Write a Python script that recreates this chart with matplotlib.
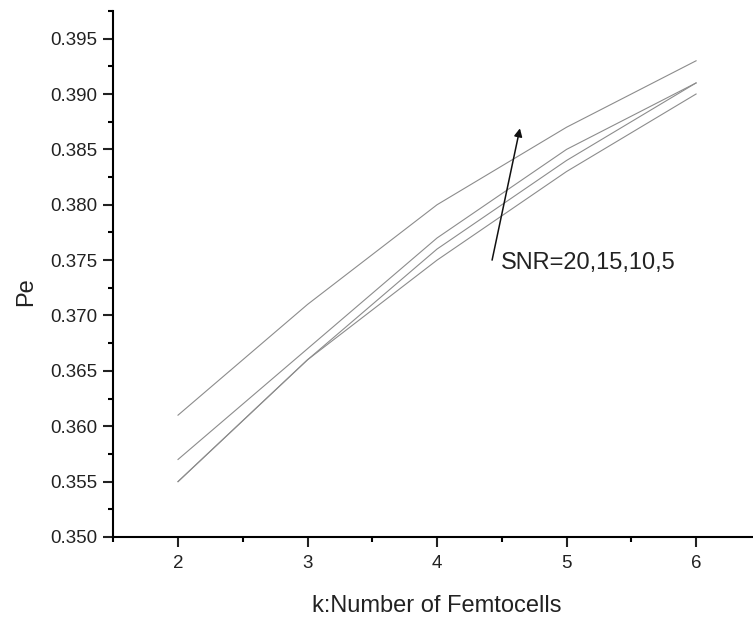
import matplotlib.pyplot as plt
from matplotlib.ticker import MultipleLocator, FormatStrFormatter

plt.rcParams['font.family'] = ['Liberation Sans', 'DejaVu Sans']

# number of femtocells
k = [2, 3, 4, 5, 6]

# error probability for each SNR
pe_snr20 = [0.361, 0.371, 0.380, 0.387, 0.393]
pe_snr15 = [0.357, 0.367, 0.377, 0.385, 0.391]
pe_snr10 = [0.355, 0.366, 0.376, 0.384, 0.391]
pe_snr5 = [0.355, 0.366, 0.375, 0.383, 0.390]

x_ticks = [2, 3, 4, 5, 6]
y_ticks = [0.350, 0.355, 0.360, 0.365, 0.370, 0.375, 0.380, 0.385, 0.390, 0.395]


def main():
    fig = plt.figure(figsize=(7.53, 6.19), dpi=100)
    ax = fig.add_axes([0.1504, 0.1325, 0.86, 0.8498])

    for pe in (pe_snr20, pe_snr15, pe_snr10, pe_snr5):
        ax.plot(k, pe, color='0.55', lw=0.8)

    ax.set_xlim(1.5, 6.5)
    ax.set_ylim(0.350, 0.3975)
    ax.set_xticks(x_ticks)
    ax.set_yticks(y_ticks)
    ax.xaxis.set_minor_locator(MultipleLocator(0.5))
    ax.yaxis.set_minor_locator(MultipleLocator(0.0025))
    ax.yaxis.set_major_formatter(FormatStrFormatter('%.3f'))

    for side in ('top', 'right'):
        ax.spines[side].set_visible(False)
    for side in ('left', 'bottom'):
        ax.spines[side].set_linewidth(1.5)

    ax.tick_params(which='major', direction='out', length=7.2, width=1.5,
                   labelsize=13.5, colors='#222222')
    ax.tick_params(which='minor', direction='out', length=3.6, width=1.5)
    ax.tick_params(axis='y', pad=4)
    ax.tick_params(axis='x', pad=6)

    ax.set_xlabel("k:Number of Femtocells", fontsize=17, color='#222222', labelpad=16)
    ax.set_ylabel("Pe", fontsize=17, color='#222222')
    ax.yaxis.set_label_coords(-0.118, 0.466)

    ax.annotate("", xy=(4.64, 0.3869), xytext=(4.425, 0.375),
                arrowprops=dict(arrowstyle='-|>', color='#111111', lw=1.1,
                                mutation_scale=12, shrinkA=0, shrinkB=0))
    ax.text(4.49, 0.3747, "SNR=20,15,10,5", fontsize=17, color='#222222',
            ha='left', va='center')

    fig.savefig("out.png", dpi=100)
    plt.close(fig)


if __name__ == "__main__":
    main()
